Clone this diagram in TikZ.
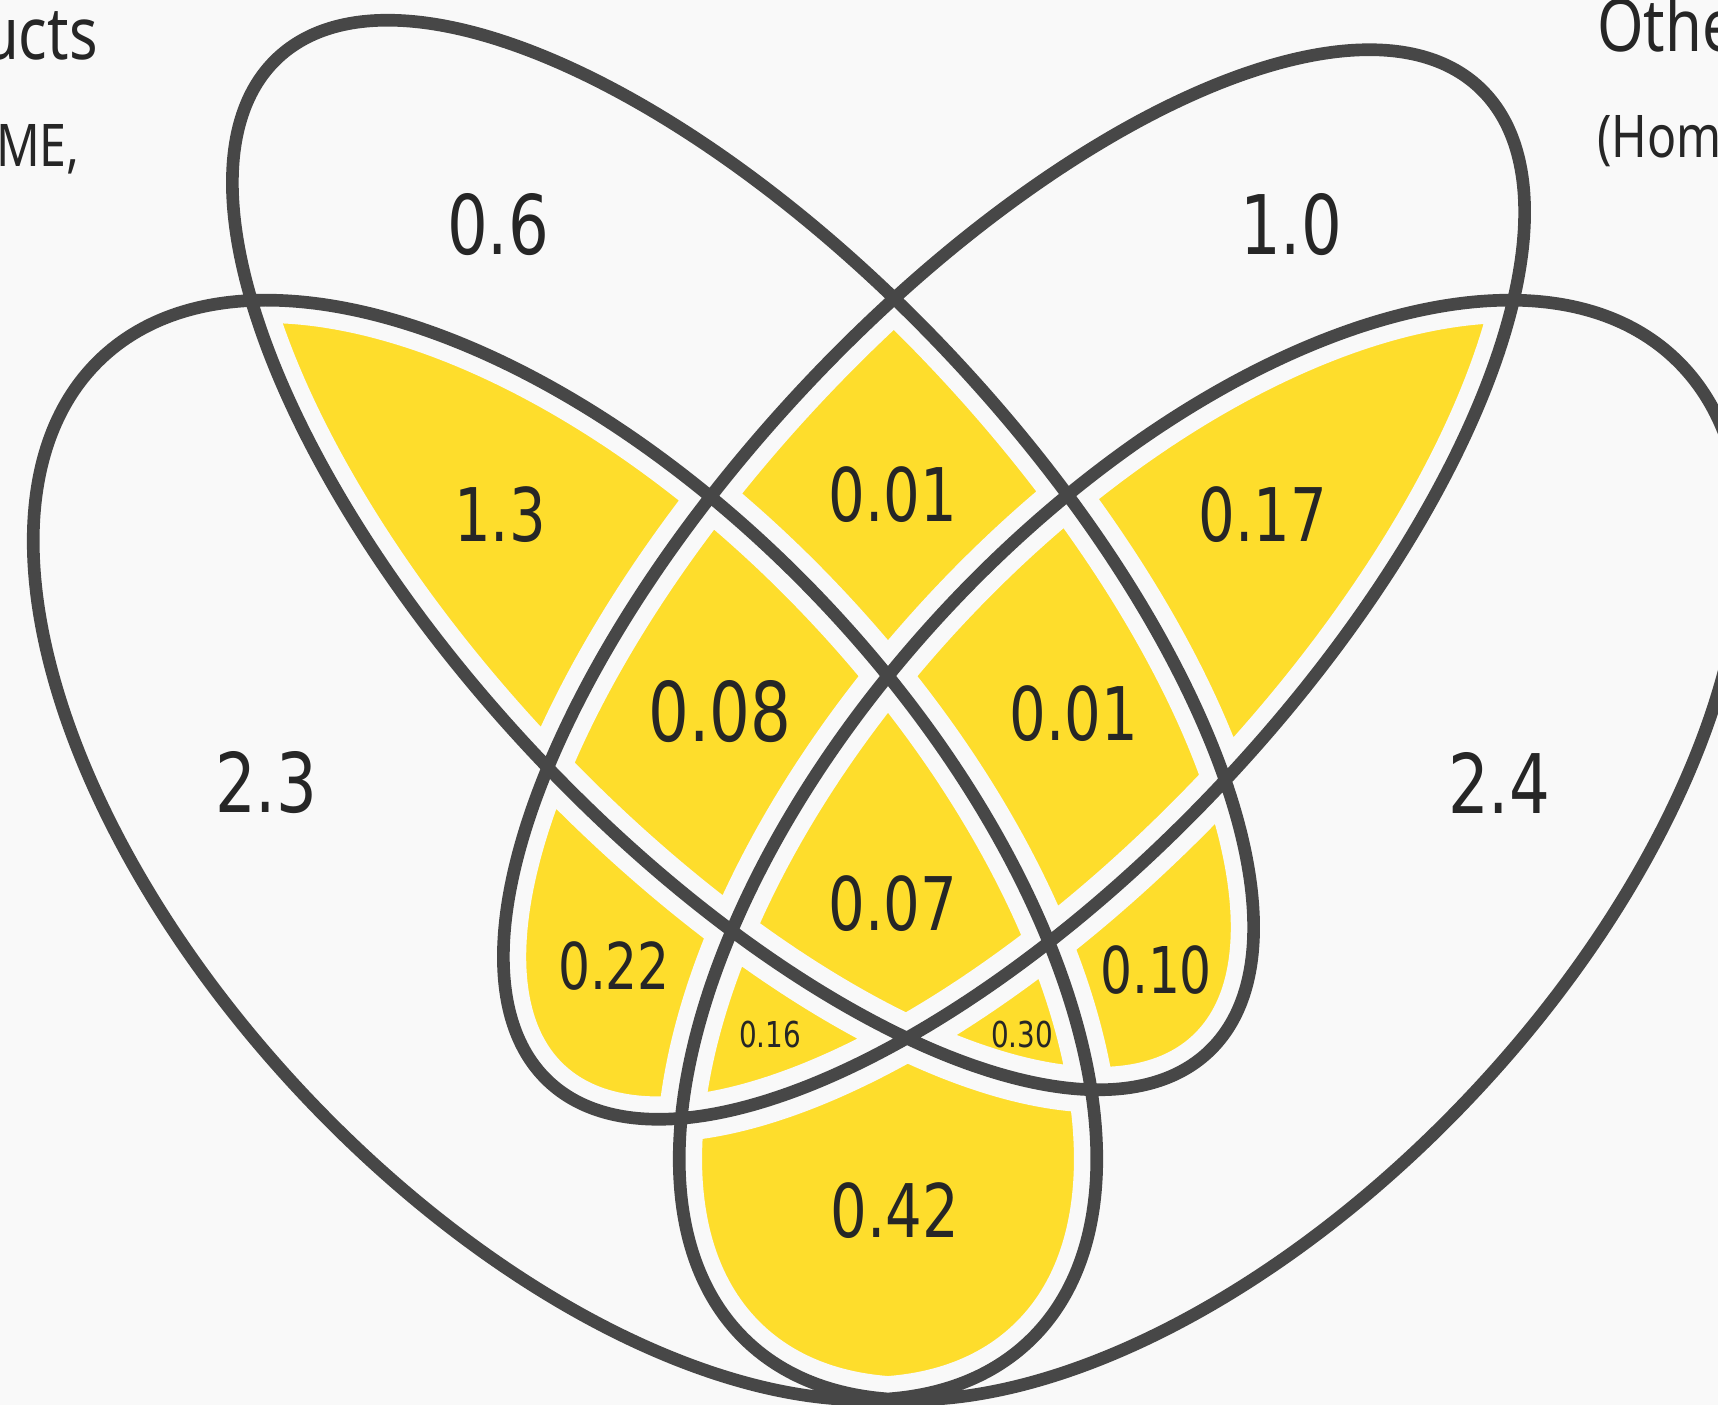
\documentclass[tikz,border=0pt]{standalone}
\usepackage{fontspec}
\usepackage{tikz}
\usetikzlibrary{positioning}
\newfontfamily\numfont{DejaVu Sans}[FakeStretch=0.78]
\newfontfamily\capfont{Noto Sans}[FakeStretch=0.82]
\definecolor{vbg}{HTML}{F9F9F9}
\definecolor{vyellow}{HTML}{FEDD2C}
\definecolor{vline}{HTML}{474747}
\definecolor{vtext}{HTML}{262626}

% the four sets
\newcommand{\vsetA}{(743,-555) ellipse [x radius=13.62cm, y radius=5.76cm, rotate=-46.9]}
\newcommand{\vsetB}{(1014,-584.5) ellipse [x radius=13.62cm, y radius=5.76cm, rotate=46.9]}
\newcommand{\vsetC}{(565,-850) ellipse [x radius=13.52cm, y radius=7.16cm, rotate=-46.7]}
\newcommand{\vsetD}{(1211,-850) ellipse [x radius=13.52cm, y radius=7.16cm, rotate=46.7]}

\begin{document}
\begin{tikzpicture}[x=0.02cm,y=0.02cm,
  gap line/.style={draw=vbg,line width=26pt},
  venn line/.style={draw=vline,line width=7.2pt},
  biglab/.style={inner sep=0pt,text=vtext,font=\numfont\fontsize{46.8}{50}\selectfont},
  midlab/.style={inner sep=0pt,text=vtext,font=\numfont\fontsize{42.1}{45}\selectfont},
  smalllab/.style={inner sep=0pt,text=vtext,font=\numfont\fontsize{36.7}{40}\selectfont},
  tinylab/.style={inner sep=0pt,text=vtext,font=\numfont\fontsize{20.3}{22}\selectfont},
  setname/.style={inner sep=0pt,text=vtext,font=\capfont\fontsize{41.4}{45}\selectfont},
  setnote/.style={inner sep=0pt,text=vtext,font=\capfont\fontsize{33.5}{36}\selectfont}]
  \fill[vbg] (0,0) rectangle (1718,-1405);
  \useasboundingbox (0,0) rectangle (1718,-1405);

  % overlaps
  \begin{scope}\clip \vsetA; \fill[vyellow] \vsetB; \end{scope}
  \begin{scope}\clip \vsetA; \fill[vyellow] \vsetC; \end{scope}
  \begin{scope}\clip \vsetA; \fill[vyellow] \vsetD; \end{scope}
  \begin{scope}\clip \vsetB; \fill[vyellow] \vsetC; \end{scope}
  \begin{scope}\clip \vsetB; \fill[vyellow] \vsetD; \end{scope}
  \begin{scope}\clip \vsetC; \fill[vyellow] \vsetD; \end{scope}

  \path[gap line] \vsetA \vsetB \vsetC \vsetD;
  \path[venn line] \vsetA \vsetB \vsetC \vsetD;

  % set names, cut by the page edge
  \node[setname,anchor=base east] (nameL) at (98,-60) {Products};
  \node[setnote,anchor=base east] (noteL) at (80,-167) {(SME,};
  \node[setname,anchor=base west] (nameR) at (1597,-52) {Other};
  \node[setnote,anchor=base west] (noteR) at (1597,-158) {(Home};

  % region values
  \node[biglab] (onlyA) at (498,-225) {0.6};
  \node[biglab] (onlyB) at (1291,-225) {1.0};
  \node[biglab] (onlyC) at (266,-783) {2.3};
  \node[biglab] (onlyD) at (1499,-783) {2.4};
  \node[midlab] (AC) at (500,-515) {1.3};
  \node[midlab] (AB) at (893,-495) {0.01};
  \node[midlab] (BD) at (1263,-515) {0.17};
  \node[biglab] (ABC) at (720,-712) {0.08};
  \node[midlab] (ABD) at (1074,-714) {0.01};
  \node[midlab] (ABCD) at (893,-904) {0.07};
  \node[smalllab] (BC) at (614,-966) {0.22};
  \node[smalllab] (AD) at (1156,-970) {0.10};
  \node[tinylab] (BCD) at (770,-1035) {0.16};
  \node[tinylab] (ACD) at (1022,-1035) {0.30};
  \node[midlab] (CD) at (895,-1211) {0.42};
\end{tikzpicture}
\end{document}
